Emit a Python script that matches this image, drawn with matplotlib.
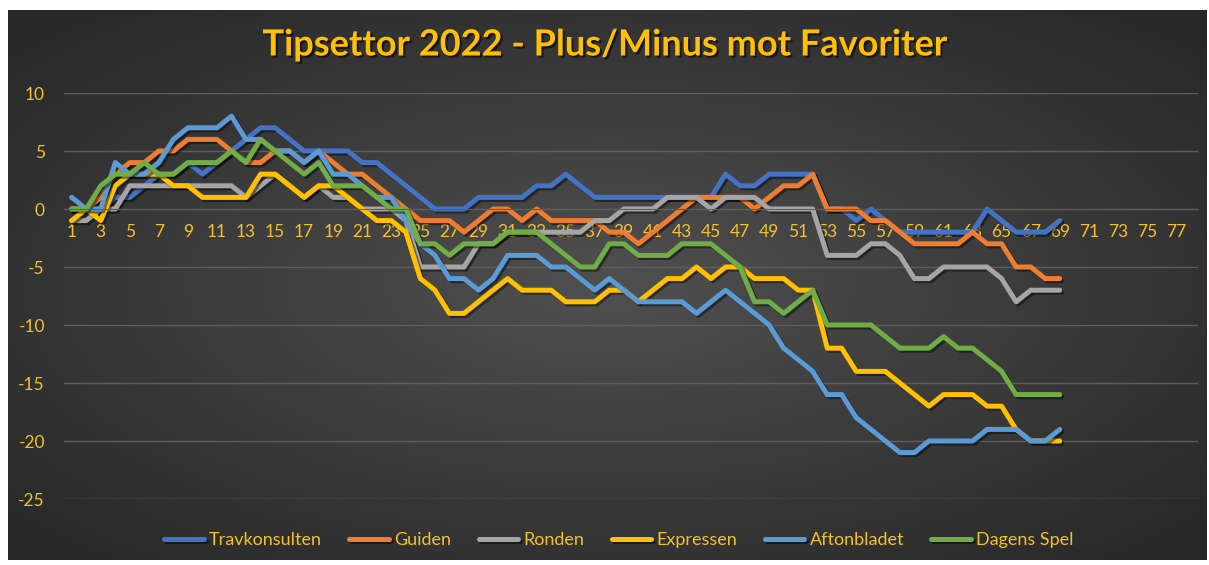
import numpy as np
import matplotlib
matplotlib.use("Agg")
import matplotlib.pyplot as plt
import matplotlib.patheffects as pe

# ---------------- data ----------------
title = "Tipsettor 2022 - Plus/Minus mot Favoriter"
categories = list(range(1, 79))
series_names = ["Travkonsulten", "Guiden", "Ronden", "Expressen", "Aftonbladet", "Dagens Spel"]

travkonsulten = [0, 0, 0, 1, 1, 2, 3, 3, 4, 3, 4, 5, 6, 7, 7, 6, 5, 5, 5, 5,
                 4, 4, 3, 2, 1, 0, 0, 0, 1, 1, 1, 1, 2, 2, 3, 2, 1, 1, 1, 1,
                 1, 1, 1, 1, 1, 3, 2, 2, 3, 3, 3, 3, 0, 0, -1, 0, -1, -2, -2, -2,
                 -2, -2, -2, 0, -1, -2, -2, -2, -1]
guiden = [0, 0, 1, 3, 4, 4, 5, 5, 6, 6, 6, 5, 4, 4, 5, 5, 4, 5, 4, 3,
          3, 2, 1, 0, -1, -1, -1, -2, -1, 0, 0, -1, 0, -1, -1, -1, -1, -2, -2, -3,
          -2, -1, 0, 1, 1, 1, 1, 0, 1, 2, 2, 3, 0, 0, 0, -1, -1, -2, -3, -3,
          -3, -3, -2, -3, -3, -5, -5, -6, -6]
ronden = [-1, -1, 0, 0, 2, 2, 2, 2, 2, 2, 2, 2, 1, 2, 3, 2, 1, 2, 1, 1,
          0, 0, 0, -1, -5, -5, -5, -5, -3, -3, -2, -2, -2, -2, -2, -2, -1, -1, 0, 0,
          0, 1, 1, 1, 0, 1, 1, 1, 0, 0, 0, 0, -4, -4, -4, -3, -3, -4, -6, -6,
          -5, -5, -5, -5, -6, -8, -7, -7, -7]
expressen = [-1, 0, -1, 2, 3, 3, 3, 2, 2, 1, 1, 1, 1, 3, 3, 2, 1, 2, 2, 1,
             0, -1, -1, -2, -6, -7, -9, -9, -8, -7, -6, -7, -7, -7, -8, -8, -8, -7, -7, -8,
             -7, -6, -6, -5, -6, -5, -5, -6, -6, -6, -7, -7, -12, -12, -14, -14, -14, -15, -16, -17,
             -16, -16, -16, -17, -17, -19, -20, -20, -20]
aftonbladet = [1, 0, 0, 4, 3, 3, 4, 6, 7, 7, 7, 8, 6, 6, 5, 5, 4, 5, 3, 3,
               2, 1, 1, -1, -3, -4, -6, -6, -7, -6, -4, -4, -4, -5, -5, -6, -7, -6, -7, -8,
               -8, -8, -8, -9, -8, -7, -8, -9, -10, -12, -13, -14, -16, -16, -18, -19, -20, -21, -21, -20,
               -20, -20, -20, -19, -19, -19, -20, -20, -19]
dagens_spel = [0, 0, 2, 3, 3, 4, 3, 3, 4, 4, 4, 5, 4, 6, 5, 4, 3, 4, 2, 2,
               2, 1, 0, 0, -3, -3, -4, -3, -3, -3, -2, -2, -2, -3, -4, -5, -5, -3, -3, -4,
               -4, -4, -3, -3, -3, -4, -5, -8, -8, -9, -8, -7, -10, -10, -10, -10, -11, -12, -12, -12,
               -11, -12, -12, -13, -14, -16, -16, -16, -16]
series_values = [travkonsulten, guiden, ronden, expressen, aftonbladet, dagens_spel]
y_ticks = [10, 5, 0, -5, -10, -15, -20, -25]
x_tick_labels = [str(c) for c in categories if c % 2 == 1]

colors = ["#4472C4", "#ED7D31", "#A5A5A5", "#FFC000", "#5B9BD5", "#70AD47"]
gold = "#F2C12E"

W, H = 1209, 565
fig = plt.figure(figsize=(W / 100, H / 100), dpi=100)
fig.patch.set_facecolor("white")

# background with radial gradient
bg = fig.add_axes([8 / W, (H - 560) / H, (1207 - 8) / W, (560 - 10) / H], zorder=-10)
nx, ny = 400, 200
gx, gy = np.meshgrid(np.linspace(-1, 1, nx), np.linspace(-1, 1, ny))
r = np.clip(np.sqrt(gx ** 2 + gy ** 2) / 1.35, 0, 1)
c0 = np.array([0x50, 0x50, 0x50]) / 255
c1 = np.array([0x28, 0x28, 0x28]) / 255
img = c0[None, None, :] * (1 - r[..., None]) + c1[None, None, :] * r[..., None]
bg.imshow(img, aspect="auto", extent=[0, 1, 0, 1], interpolation="bilinear")
bg.set_axis_off()

# main axes
left, right = 64.4, 1197.8
top, bottom = 93, 499
ax = fig.add_axes([left / W, (H - bottom) / H, (right - left) / W, (bottom - top) / H])
ax.set_facecolor("none")

shadow = [pe.SimpleLineShadow(offset=(1.5, -1.5), shadow_color="black", alpha=0.45), pe.Normal()]
for name, vals, col in zip(series_names, series_values, colors):
    ax.plot(categories[:len(vals)], vals, color=col, lw=3.6, label=name,
            solid_joinstyle="round", solid_capstyle="round", path_effects=shadow)

ax.set_xlim(0.5, 78.5)
ax.set_ylim(-25, 10)
ax.set_yticks(y_ticks)
ax.set_yticklabels([str(t) for t in y_ticks])
ax.set_xticks([c for c in categories if c % 2 == 1])
ax.set_xticklabels(x_tick_labels)
ax.grid(axis="y", color="#5e5e5e", lw=1.0)
ax.set_axisbelow(True)
for s in ["top", "right", "left"]:
    ax.spines[s].set_visible(False)
ax.spines["bottom"].set_position(("data", 0))
ax.spines["bottom"].set_color("#5e5e5e")
ax.tick_params(axis="both", length=0, colors=gold, labelsize=12.5)
ax.tick_params(axis="x", pad=11)
ax.tick_params(axis="y", pad=14)
for lab in ax.get_xticklabels() + ax.get_yticklabels():
    lab.set_fontfamily("Lato")
    lab.set_color(gold)

fig.text(0.5, 1 - 45 / H, title, ha="center", va="center", color="#FFC000",
         fontsize=26, fontweight="bold", family="Lato",
         path_effects=[pe.withSimplePatchShadow(offset=(1.5, -1.5), shadow_rgbFace="black", alpha=0.6)])

leg = fig.legend(loc="center", bbox_to_anchor=(619 / W, 1 - 540 / H), ncol=6, frameon=False,
                 handlelength=2.2, handletextpad=0.3, columnspacing=1.5,
                 prop={"family": "Lato", "size": 13})
for t in leg.get_texts():
    t.set_color(gold)

fig.savefig("out.png", dpi=100, facecolor=fig.get_facecolor())
